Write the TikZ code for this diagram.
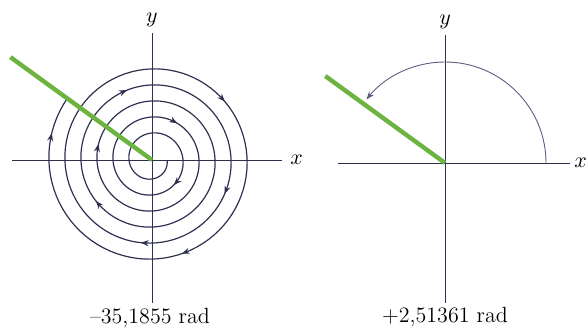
\documentclass[tikz,border=0pt]{standalone}
\usepackage{xcolor}
\usepackage{amsmath}
\usepackage{tikz}
\usetikzlibrary{arrows.meta,positioning,calc}
\definecolor{axisink}{HTML}{2E3050}
\definecolor{arcink}{HTML}{5A5F80}
\definecolor{rodgreen}{HTML}{6DB33F}

\begin{document}
\begin{tikzpicture}[
  x=0.5pt, y=0.5pt,
  declare function={rr(\t)=15+2.55*\t;},
  axis/.style={draw=axisink, line width=0.45pt},
  spiral/.style={draw=axisink, line width=0.6pt},
  rod/.style={draw=rodgreen, line width=2.2pt},
  lbl/.style={font=\fontsize{11}{13}\selectfont, text=black, inner sep=1pt},
  tip/.style={-{Stealth[length=4pt,width=3pt]}}
]
\useasboundingbox (0,0) rectangle (587,331);
\coordinate (L) at (152,171);
\coordinate (R) at (445,168);

\draw[axis] ($(L)+(-140,0)$) coordinate (lxa) -- ($(L)+(130,0)$) coordinate (lxb);
\draw[axis] ($(L)+(0,-143)$) coordinate (lya) -- ($(L)+(0,127)$) coordinate (lyb);
\node[lbl, right=3pt of lxb] (lx) {$x$};
\node[lbl, above=2pt of lyb] (ly) {$y$};
\draw[spiral, shift={(L)}] plot[domain=0:35.1855, samples=500, variable=\t]
  ({rr(\t)*cos(deg(-\t))}, {rr(\t)*sin(deg(-\t))});
\foreach \p in {7.14,11.6,16.0,21.36,23.22,25.57,26.84,30.74,32.68,34.82}
  \draw[spiral, tip, shift={(L)}]
    ({rr(\p-0.06)*cos(deg(-\p+0.06))}, {rr(\p-0.06)*sin(deg(-\p+0.06))}) --
    ({rr(\p)*cos(deg(-\p))}, {rr(\p)*sin(deg(-\p))});
\draw[rod] (L) -- ++(144:175) coordinate (lrod);
\node[lbl] (lt) at ($(L)+(-2,-158)$) {--35,1855 rad};

\draw[axis] ($(R)+(-107,0)$) coordinate (rxa) -- ($(R)+(125,0)$) coordinate (rxb);
\draw[axis] ($(R)+(0,-140)$) coordinate (rya) -- ($(R)+(0,128)$) coordinate (ryb);
\node[lbl, right=1pt of rxb] (rx) {$x$};
\node[lbl, above=2pt of ryb] (ry) {$y$};
\draw[draw=arcink, line width=0.45pt, tip] ($(R)+(0:101)$) arc (0:141:101);
\draw[rod] (R) -- ++(144:148) coordinate (rrod);
\node[lbl] (rt) at ($(R)+(0,-154)$) {+2,51361 rad};
\end{tikzpicture}
\end{document}
